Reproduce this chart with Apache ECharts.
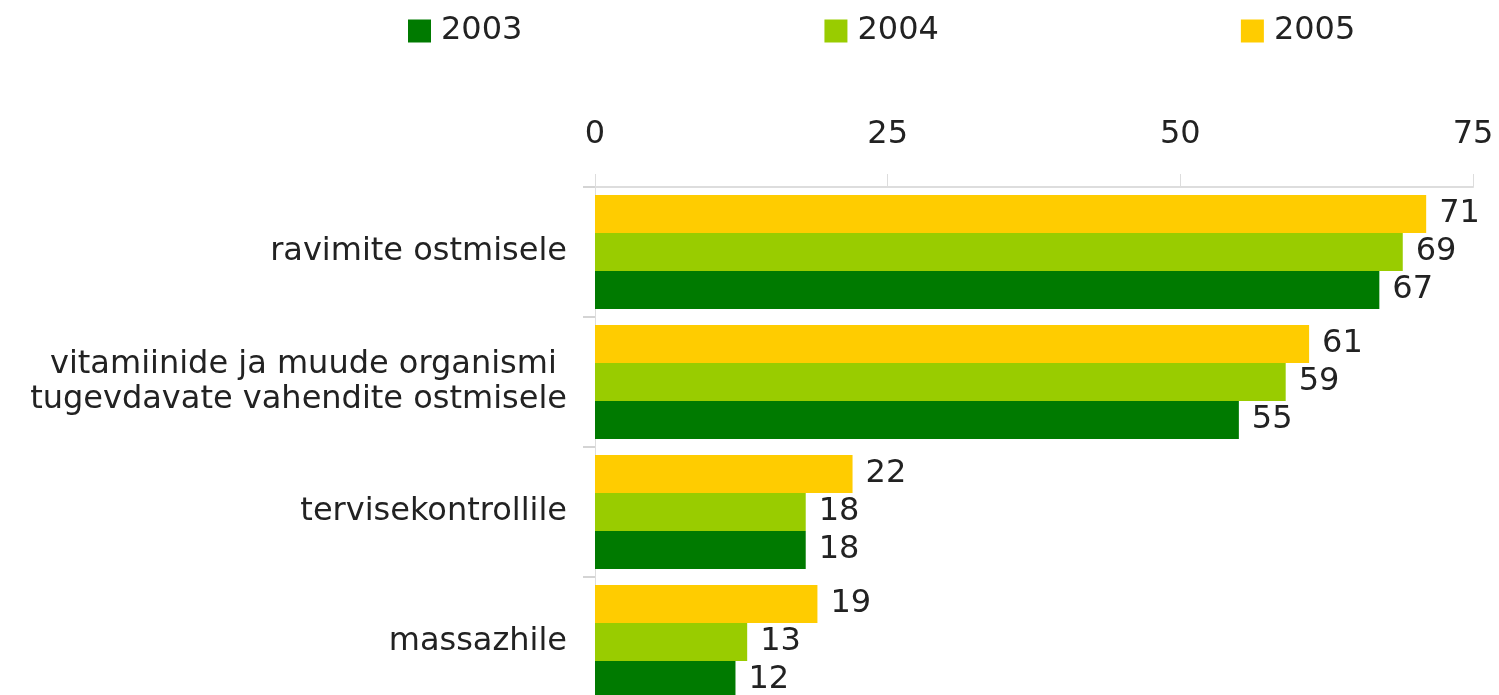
<!DOCTYPE html>
<html>
<head>
<meta charset="utf-8">
<script src="https://cdn.jsdelivr.net/npm/echarts@6/dist/echarts.min.js"></script>
<style>
  html, body { margin: 0; padding: 0; background: #fff; }
  #chart { width: 1499px; height: 695px; }
</style>
</head>
<body>
<div id="chart"></div>
<script>
// andmed
var categories = ['ravimite ostmisele', 'vitamiinide ja muude organismi \ntugevdavate vahendite ostmisele', 'tervisekontrollile', 'massazhile'];
var years = ['2003', '2004', '2005'];
var values2003 = [67, 55, 18, 12];
var values2004 = [69, 59, 18, 13];
var values2005 = [71, 61, 22, 19];
var xTicks = [0, 25, 50, 75];

var colors = {'2003': '#007a00', '2004': '#99cc00', '2005': '#ffcc00'};
var font = 'DejaVu Sans';

var chart = echarts.init(document.getElementById('chart'));

function makeSeries(name, data) {
    return {
        name: name,
        type: 'bar',
        data: data,
        barWidth: 38,
        barGap: '0%',
        itemStyle: {color: colors[name]},
        label: {
            show: true,
            position: 'right',
            distance: 13,
            fontFamily: font,
            fontSize: 32,
            color: '#222'
        }
    };
}

var option = {
    animation: false,
    textStyle: {fontFamily: font},
    legend: {
        data: years,
        left: 408,
        top: 15,
        padding: 0,
        itemWidth: 23,
        itemHeight: 23,
        itemGap: 302,
        icon: 'rect',
        textStyle: {fontFamily: font, fontSize: 32, color: '#222', padding: [0, 0, 0, 5]}
    },
    grid: {
        left: 595,
        right: 26,
        top: 187,
        height: 520,
        outerBoundsMode: 'none'
    },
    xAxis: {
        type: 'value',
        position: 'top',
        min: xTicks[0],
        max: xTicks[xTicks.length - 1],
        interval: 25,
        axisLine: {show: true, lineStyle: {color: '#dddddd', width: 2}},
        axisTick: {show: true, length: 13, lineStyle: {color: '#dddddd'}},
        splitLine: {show: false},
        axisLabel: {fontFamily: font, fontSize: 32, color: '#222', margin: 36}
    },
    yAxis: {
        type: 'category',
        data: categories,
        inverse: true,
        axisLine: {show: true, lineStyle: {color: '#dddddd'}},
        axisTick: {show: true, length: 12, lineStyle: {color: '#d4d4d4', width: 2}},
        axisLabel: {fontFamily: font, fontSize: 32, lineHeight: 35, color: '#222', margin: 28}
    },
    series: [
        makeSeries('2005', values2005),
        makeSeries('2004', values2004),
        makeSeries('2003', values2003)
    ]
};

chart.setOption(option);
</script>
</body>
</html>
